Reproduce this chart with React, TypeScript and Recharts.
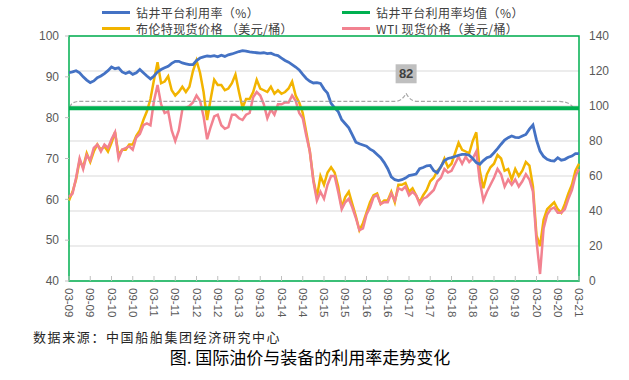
import React from 'react';
import { LineChart, Line, XAxis, YAxis, CartesianGrid, ReferenceLine, ReferenceArea } from 'recharts';

// Monthly categories from 2009-03 to 2021-03, labelled "MM-YY"
const months: string[] = [];
for (let y = 2009; y <= 2021; y++) {
  for (let m = 1; m <= 12; m++) {
    if ((y === 2009 && m < 3) || (y === 2021 && m > 3)) continue;
    months.push(`${String(m).padStart(2, '0')}-${String(y % 100).padStart(2, '0')}`);
  }
}

// 钻井平台利用率（%） — left axis
const utilization: number[] = [
  91.0, 91.2, 91.5, 91.0, 90.0, 89.2, 88.6, 89.0, 89.8, 90.2,
  90.8, 91.5, 92.4, 92.0, 92.2, 91.2, 90.8, 91.2, 90.6, 91.0, 91.8, 91.0,
  90.2, 89.5, 90.2, 91.2, 91.8, 92.2, 92.6, 93.3, 93.8, 93.8, 93.4, 93.2,
  93.0, 93.0, 94.0, 94.6, 94.9, 95.1, 95.0, 95.2, 94.9, 95.3, 95.0, 95.4,
  95.6, 95.9, 96.2, 96.4, 96.3, 96.1, 96.0, 95.9, 95.8, 95.9, 95.7, 95.8,
  95.4, 95.2, 94.6, 94.0, 93.6, 93.0, 92.4, 91.7, 90.6, 89.6, 88.9, 88.5,
  88.6, 88.4, 87.0, 86.0, 83.5, 82.4, 81.5, 79.5, 78.5, 77.5, 75.8, 74.0,
  73.6, 73.3, 73.0, 72.3, 71.8, 71.0, 70.2, 69.0, 67.5, 65.5, 64.8, 64.6,
  64.8, 65.2, 65.8, 66.0, 66.2, 67.5, 67.8, 68.2, 68.3, 67.0, 66.5, 68.0,
  69.5, 70.0, 70.2, 70.5, 70.8, 71.0, 71.0, 70.8, 70.0, 69.0, 68.6, 69.5,
  70.2, 70.5, 71.4, 72.4, 73.5, 74.5, 75.1, 75.5, 75.2, 75.1, 75.5, 75.9,
  77.2, 78.2, 74.5, 71.8, 70.5, 69.8, 69.5, 69.4, 70.2, 69.6, 69.8, 70.3,
  70.6, 71.2, 71.2,
];

// 布伦特现货价格（美元/桶） — right axis
const brent: number[] = [
  46, 51, 58, 69, 65, 73, 68, 74, 78, 75,
  77, 74, 79, 85, 72, 75, 75, 78, 78, 83, 86, 92,
  97, 104, 115, 125, 113, 114, 117, 109, 106, 108, 111, 108,
  111, 120, 126, 119, 108, 92, 104, 115, 112, 112, 109, 110,
  113, 118, 108, 99, 104, 104, 108, 115, 110, 109, 108, 111,
  107, 109, 107, 108, 110, 114, 106, 102, 96, 85, 74, 58,
  48, 60, 55, 62, 65, 62, 54, 42, 48, 51, 44, 37,
  29, 33, 39, 45, 49, 50, 44, 46, 46, 51, 45, 55,
  55, 56, 51, 53, 49, 45, 49, 52, 57, 59, 63, 65,
  70, 65, 67, 73, 79, 75, 74, 73, 80, 85, 63, 53,
  61, 65, 67, 72, 70, 63, 64, 58, 64, 60, 63, 68,
  66, 54, 26, 20, 35, 41, 43, 45, 41, 39, 44, 50,
  55, 63, 67,
];

// WTI 现货价格（美元/桶） — right axis
const wti: number[] = [
  48, 50, 59, 70, 64, 72, 69, 76, 78, 74,
  78, 76, 81, 85, 70, 75, 76, 77, 75, 82, 84, 89,
  90, 89, 103, 112, 101, 96, 97, 86, 80, 86, 98, 99,
  100, 102, 106, 103, 94, 81, 88, 94, 95, 89, 87, 88,
  95, 95, 93, 92, 95, 96, 105, 108, 106, 101, 93, 98,
  95, 101, 101, 102, 102, 106, 103, 96, 93, 83, 74, 57,
  46, 51, 47, 55, 60, 60, 51, 41, 45, 47, 42, 36,
  29, 30, 38, 42, 48, 49, 44, 45, 45, 50, 46, 53,
  52, 54, 49, 51, 49, 44, 47, 48, 50, 52, 57, 59,
  64, 62, 63, 67, 71, 67, 71, 68, 70, 74, 57, 46,
  51, 55, 59, 64, 61, 54, 58, 55, 58, 54, 57, 61,
  58, 51, 23, 4, 30, 38, 41, 42, 39, 39, 41, 47,
  52, 60, 64,
];

// 钻井平台利用率均值（%）
const meanUtil = 82.3;
const meanLabel = '82';

const leftTicks = [40, 50, 60, 70, 80, 90, 100];
const rightTicks = [0, 20, 40, 60, 80, 100, 120, 140];

const data = months.map((m, i) => ({
  month: m,
  util: utilization[i],
  brent: brent[i],
  wti: wti[i],
}));

const C_BLUE = '#4472c4';
const C_GREEN = '#00b050';
const C_BRENT = '#f2b400';
const C_WTI = '#f28290';
const C_TEXT = '#595959';
const NUM_FONT = "'Liberation Sans', 'Noto Sans CJK SC', sans-serif";
const CJK_FONT = "'Noto Sans CJK SC', sans-serif";

const XTick = (props: any) => {
  const { x, y, payload } = props;
  return (
    <g>
      <line x1={x} x2={x} y1={y - 5} y2={y} stroke="#bfbfbf" strokeWidth={1} />
      <text
        transform={`translate(${x},${y + 7}) rotate(90)`}
        textAnchor="start"
        dominantBaseline="central"
        fontSize={11.5}
        fontFamily={NUM_FONT}
        fill={C_TEXT}
      >
        {payload.value}
      </text>
    </g>
  );
};

const MeanShape = (p: any) => {
  const { x1, x2, y1 } = p;
  const w = x2 - x1;
  const top = y1 - 7;
  const px = x1 + w * 0.661;
  const d = `M ${x1 + 1} ${y1 - 1} Q ${x1 + 2} ${top} ${x1 + 12} ${top} L ${px - 11} ${top} Q ${px - 4} ${top} ${px} ${top - 8} Q ${px + 4} ${top} ${px + 11} ${top} L ${x2 - 22} ${top} Q ${x2 - 10} ${top} ${x2 - 6} ${y1 - 1}`;
  return (
    <g>
      <path d={d} fill="none" stroke="#a6a6a6" strokeWidth={1.2} strokeDasharray="4 2" />
      <line x1={x1} x2={x2} y1={y1} y2={y1} stroke={C_GREEN} strokeWidth={4} />
      <rect x={px - 10.5} y={top - 37} width={21} height={19} fill="#bfbfbf" />
      <text
        x={px}
        y={top - 27.5}
        textAnchor="middle"
        dominantBaseline="central"
        fontSize={13}
        fontWeight="bold"
        fontFamily={NUM_FONT}
        fill="#404040"
      >
        {meanLabel}
      </text>
    </g>
  );
};

const legendItems = [
  { label: '钻井平台利用率（%）', color: C_BLUE, x: 102, y: 12.5 },
  { label: '钻井平台利用率均值（%）', color: C_GREEN, x: 342, y: 12.5 },
  { label: '布伦特现货价格 （美元/桶）', color: C_BRENT, x: 102, y: 28.5 },
  { label: 'WTI 现货价格（美元/桶）', color: C_WTI, x: 342, y: 28.5 },
];

export default function App() {
  return (
    <div style={{ position: 'absolute', left: 0, top: 0, width: 629, height: 380, background: '#fff' }}>
      <LineChart
        width={629}
        height={380}
        data={data}
        margin={{ top: 36, right: 10, bottom: 59, left: 29 }}
      >
        <CartesianGrid yAxisId="right" vertical={false} stroke="#d9d9d9" strokeWidth={1} />
        <XAxis
          dataKey="month"
          interval={5}
          height={40}
          tickSize={0}
          tickMargin={0}
          tickLine={false}
          axisLine={false}
          tick={<XTick />}
        />
        <YAxis
          yAxisId="left"
          domain={[40, 100]}
          ticks={leftTicks}
          width={40}
          axisLine={false}
          tickLine={{ stroke: '#bfbfbf' }}
          tickSize={4}
          tickMargin={6}
          tick={{ fontSize: 12, fill: C_TEXT, fontFamily: NUM_FONT }}
        />
        <YAxis
          yAxisId="right"
          orientation="right"
          domain={[0, 140]}
          ticks={rightTicks}
          width={40}
          axisLine={false}
          tickLine={false}
          tickSize={6}
          tickMargin={4}
          tick={{ fontSize: 12, fill: C_TEXT, fontFamily: NUM_FONT, textAnchor: 'start' }}
        />
        <ReferenceArea
          yAxisId="left"
          y1={40}
          y2={100}
          fill="none"
          fillOpacity={0}
          stroke={C_GREEN}
          strokeWidth={1.5}
        />
        <Line
          yAxisId="right"
          dataKey="brent"
          stroke={C_BRENT}
          strokeWidth={2.5}
          dot={false}
          isAnimationActive={false}
        />
        <Line
          yAxisId="right"
          dataKey="wti"
          stroke={C_WTI}
          strokeWidth={2.5}
          dot={false}
          isAnimationActive={false}
        />
        <Line
          yAxisId="left"
          dataKey="util"
          stroke={C_BLUE}
          strokeWidth={2.8}
          dot={false}
          isAnimationActive={false}
        />
        <ReferenceLine yAxisId="left" y={meanUtil} shape={MeanShape} />
      </LineChart>

      {legendItems.map((it) => (
        <div
          key={it.label}
          style={{
            position: 'absolute',
            left: it.x,
            top: it.y - 9,
            height: 18,
            display: 'flex',
            alignItems: 'center',
            whiteSpace: 'nowrap',
          }}
        >
          <span style={{ display: 'inline-block', width: 28, height: 3, background: it.color, marginRight: 6 }} />
          <span style={{ fontFamily: CJK_FONT, fontSize: 12, color: '#404040', letterSpacing: 0.4 }}>{it.label}</span>
        </div>
      ))}

      <div
        style={{
          position: 'absolute',
          left: 33,
          top: 328,
          fontFamily: CJK_FONT,
          fontSize: 13,
          letterSpacing: 1.6,
          color: '#262626',
          whiteSpace: 'nowrap',
          lineHeight: '18px',
        }}
      >
        数据来源：中国船舶集团经济研究中心
      </div>
      <div
        style={{
          position: 'absolute',
          left: 0,
          width: 620,
          top: 346,
          textAlign: 'center',
          fontFamily: CJK_FONT,
          fontSize: 17,
          color: '#000',
          whiteSpace: 'nowrap',
          lineHeight: '22px',
        }}
      >
        图. 国际油价与装备的利用率走势变化
      </div>
    </div>
  );
}
